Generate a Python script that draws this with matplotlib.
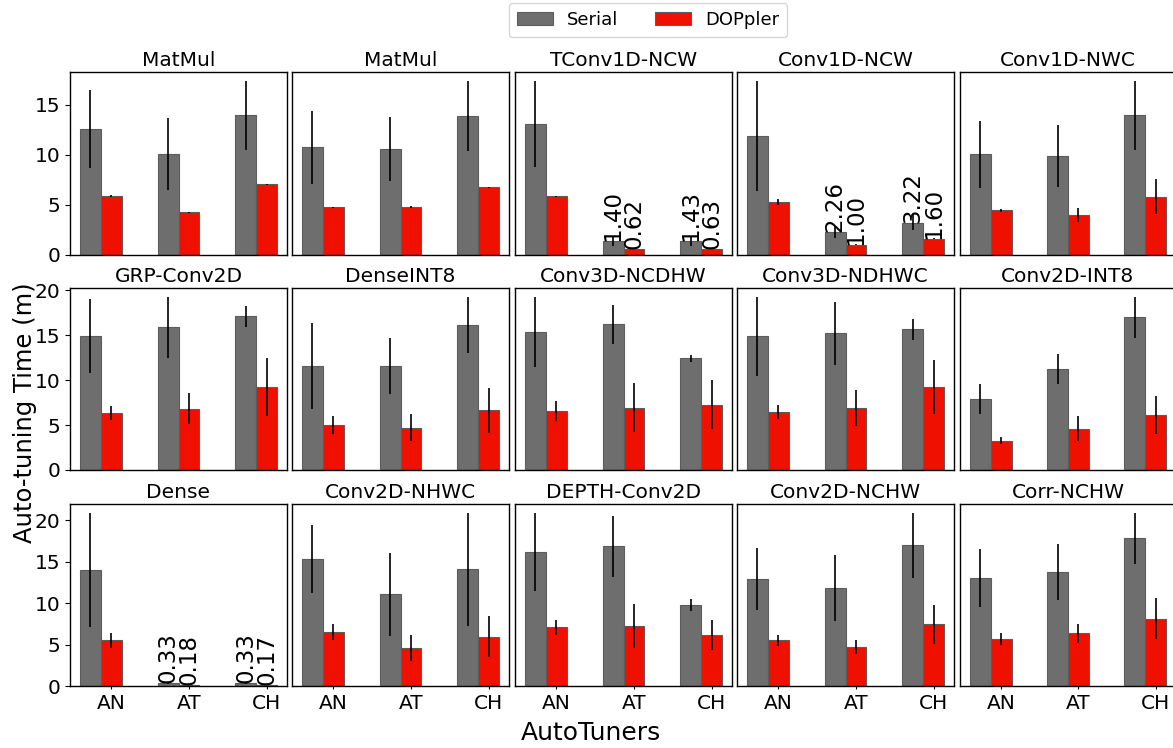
import matplotlib
matplotlib.use("Agg")
import matplotlib.pyplot as plt
from matplotlib.ticker import MultipleLocator
import numpy as np

# Kernels (one panel each), auto-tuners on the x axis
kernels = ["MatMul", "MatMul", "TConv1D-NCW", "Conv1D-NCW", "Conv1D-NWC",
           "GRP-Conv2D", "DenseINT8", "Conv3D-NCDHW", "Conv3D-NDHWC", "Conv2D-INT8",
           "Dense", "Conv2D-NHWC", "DEPTH-Conv2D", "Conv2D-NCHW", "Corr-NCHW"]
tuners = ["AN", "AT", "CH"]

# Mean auto-tuning time in minutes (AN, AT, CH) per kernel
serial_mean = [
    [12.56, 10.07, 13.96],
    [10.77, 10.57, 13.86],
    [13.06, 1.40, 1.43],
    [11.86, 2.26, 3.22],
    [10.07, 9.87, 13.96],
    [14.87, 15.87, 17.09],
    [11.55, 11.55, 16.09],
    [15.32, 16.20, 12.44],
    [14.87, 15.20, 15.65],
    [7.90, 11.22, 16.98],
    [13.98, 0.33, 0.33],
    [15.30, 11.09, 14.10],
    [16.14, 16.86, 9.77],
    [12.90, 11.81, 16.98],
    [13.02, 13.74, 17.82],
]
serial_err = [
    [3.90, 3.60, 3.45],
    [3.65, 3.20, 3.50],
    [4.30, 0.50, 0.50],
    [5.50, 0.60, 0.75],
    [3.35, 3.10, 3.45],
    [4.13, 3.40, 1.20],
    [4.80, 3.15, 3.10],
    [3.90, 2.20, 0.40],
    [4.40, 3.50, 1.20],
    [1.70, 1.70, 2.30],
    [6.90, 0.10, 0.10],
    [4.10, 5.00, 6.80],
    [4.70, 3.70, 0.70],
    [3.70, 4.00, 3.90],
    [3.50, 3.35, 3.10],
]
doppler_mean = [
    [5.85, 4.26, 7.05],
    [4.75, 4.82, 6.75],
    [5.85, 0.62, 0.63],
    [5.25, 1.00, 1.60],
    [4.45, 3.96, 5.82],
    [6.31, 6.82, 9.22],
    [5.02, 4.72, 6.64],
    [6.60, 6.93, 7.27],
    [6.46, 6.86, 9.22],
    [3.28, 4.61, 6.09],
    [5.53, 0.18, 0.17],
    [6.56, 4.57, 5.96],
    [7.09, 7.25, 6.13],
    [5.53, 4.69, 7.45],
    [5.65, 6.37, 8.13],
]
doppler_err = [
    [0.10, 0.05, 0.05],
    [0.05, 0.10, 0.05],
    [0.05, 0.02, 0.02],
    [0.30, 0.05, 0.05],
    [0.15, 0.70, 1.75],
    [0.77, 1.74, 3.20],
    [1.03, 1.50, 2.50],
    [1.10, 2.70, 2.70],
    [0.80, 2.00, 3.00],
    [0.35, 1.35, 2.10],
    [0.90, 0.02, 0.02],
    [0.95, 1.60, 2.50],
    [0.90, 2.70, 1.80],
    [0.65, 0.85, 2.35],
    [0.70, 1.15, 2.45],
]

SERIAL_COLOR = "#6e6e6e"
DOPPLER_COLOR = "#f01000"
EDGE_COLOR = "#5c5c5c"

W, H = 1173, 748
fig = plt.figure(figsize=(W / 100, H / 100), dpi=100)

col_edges = [(70, 287), (292, 509), (515, 732), (737, 954), (960, 1176)]
row_edges = [(72, 255), (288, 470), (504, 686)]

x = np.arange(len(tuners))
width = 0.27
err_style = dict(ecolor="black", elinewidth=1.2, capsize=0)

axes = []
for r, (top, bottom) in enumerate(row_edges):
    row_axes = []
    for c, (left, right) in enumerate(col_edges):
        rect = [left / W, 1 - bottom / H, (right - left) / W, (bottom - top) / H]
        share = row_axes[0] if row_axes else None
        ax = fig.add_axes(rect, sharey=share)
        k = r * 5 + c
        s = np.array(serial_mean[k])
        d = np.array(doppler_mean[k])
        ax.bar(x, s, width, yerr=serial_err[k], color=SERIAL_COLOR,
               edgecolor=EDGE_COLOR, linewidth=0.8, error_kw=err_style,
               label="Serial")
        ax.bar(x + width, d, width, yerr=doppler_err[k], color=DOPPLER_COLOR,
               edgecolor=EDGE_COLOR, linewidth=0.8, error_kw=err_style,
               label="DOPpler")
        # value labels on the short bars
        for i in range(len(tuners)):
            if s[i] < 4:
                ax.text(x[i], s[i], f"{s[i]:.2f}", rotation=90, ha="center",
                        va="bottom", fontsize=16.5)
                ax.text(x[i] + width, d[i], f"{d[i]:.2f}", rotation=90,
                        ha="center", va="bottom", fontsize=16.5)
        ax.set_title(kernels[k], fontsize=14.5, pad=4)
        ax.set_xticks(x + width)
        ax.yaxis.set_major_locator(MultipleLocator(5))
        if r == len(row_edges) - 1:
            ax.set_xticklabels(tuners, fontsize=14.5)
            ax.tick_params(axis="x", length=2)
        else:
            ax.tick_params(axis="x", bottom=False, labelbottom=False)
        if c == 0:
            ax.tick_params(axis="y", labelsize=14.5)
        else:
            ax.tick_params(axis="y", left=False, labelleft=False)
        for sp in ax.spines.values():
            sp.set_color("black")
            sp.set_linewidth(1.0)
        row_axes.append(ax)
    axes.append(row_axes)

handles, labels = axes[0][0].get_legend_handles_labels()
fig.legend(handles, labels, loc="upper center", bbox_to_anchor=(648 / W, 1 - 3 / H),
           borderaxespad=0, ncol=2, fontsize=13, frameon=True, columnspacing=2.0,
           handlelength=2.0, borderpad=0.45)

fig.text(25 / W, 1 - 413 / H, "Auto-tuning Time (m)", rotation=90,
         ha="center", va="center", fontsize=17.5)
fig.text(591 / W, 1 - 733 / H, "AutoTuners", ha="center", va="center",
         fontsize=18)

fig.savefig("out.png", dpi=100)
